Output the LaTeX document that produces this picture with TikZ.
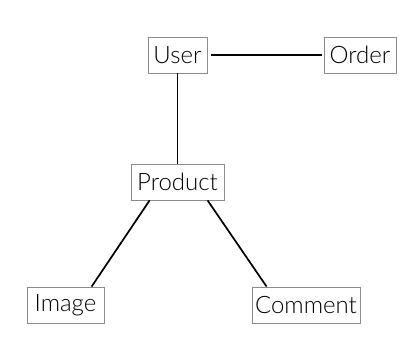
\documentclass[tikz,border=0pt]{standalone}
\usepackage{fontspec}
\setmainfont{Lato}[UprightFont=* Light]
\begin{document}
\begin{tikzpicture}[x=1pt,y=-1pt,
  entity/.style={draw=black!45, line width=0.8pt, minimum height=36pt, inner sep=0pt,
    font=\fontsize{24}{27}\selectfont, text=black},
  link/.style={line width=1.7pt, black}]
  % canvas
  \useasboundingbox (0,0) rectangle (410,363);
  % entities
  \node[entity, minimum width=59pt]  (user)    at (177.5,55)  {User};
  \node[entity, minimum width=72pt]  (order)   at (360,55)    {Order};
  \node[entity, minimum width=93pt]  (product) at (177.5,182) {Product};
  \node[entity, minimum width=77pt]  (image)   at (65.5,305)  {Image};
  \node[entity, minimum width=108pt] (comment) at (306,305)   {Comment};
  % relations
  \draw[link, shorten <=4pt, shorten >=2pt] (user.east) -- (order.west);
  \draw[link] (user.south) -- (product.north);
  \draw[link] ([xshift=19pt]product.south west) -- ([xshift=65pt]image.north west);
  \draw[link] ([xshift=77pt]product.south west) -- ([xshift=15pt]comment.north west);
\end{tikzpicture}
\end{document}
